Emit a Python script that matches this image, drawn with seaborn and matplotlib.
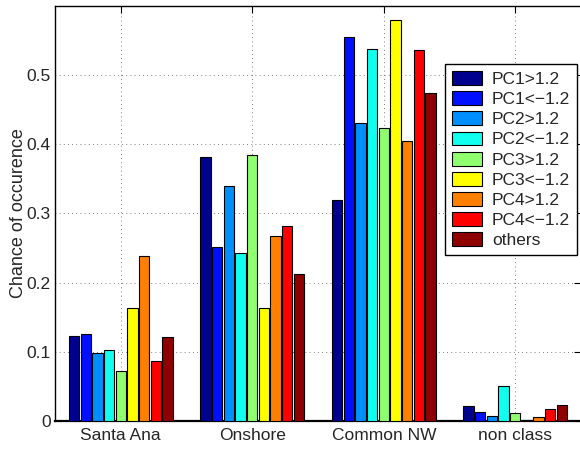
import numpy as np
import pandas as pd
import matplotlib
matplotlib.use("Agg")
import matplotlib.pyplot as plt
import seaborn as sns
from matplotlib.ticker import FuncFormatter

# Weather regimes (x groups) and PC-threshold classes (bars inside each group)
categories = ["Santa Ana", "Onshore", "Common NW", "non class"]
series = ["PC1>1.2", "PC1<\u22121.2", "PC2>1.2", "PC2<\u22121.2",
          "PC3>1.2", "PC3<\u22121.2", "PC4>1.2", "PC4<\u22121.2", "others"]

pc1_pos = [0.123, 0.382, 0.320, 0.021]
pc1_neg = [0.126, 0.252, 0.555, 0.013]
pc2_pos = [0.098, 0.340, 0.431, 0.007]
pc2_neg = [0.102, 0.243, 0.538, 0.051]
pc3_pos = [0.072, 0.385, 0.424, 0.011]
pc3_neg = [0.164, 0.164, 0.580, 0.001]
pc4_pos = [0.238, 0.267, 0.405, 0.006]
pc4_neg = [0.087, 0.282, 0.536, 0.018]
others = [0.121, 0.213, 0.474, 0.023]

values = [pc1_pos, pc1_neg, pc2_pos, pc2_neg, pc3_pos, pc3_neg,
          pc4_pos, pc4_neg, others]

colors = ["#00008F", "#0010FF", "#008FFF", "#10FFEF", "#8FFF70",
          "#FFFF00", "#FF8000", "#FF0000", "#8F0000"]

rows = []
for s, vals in zip(series, values):
    for c, v in zip(categories, vals):
        rows.append({"regime": c, "class": s, "chance": v})
df = pd.DataFrame(rows)

sns.set_style("white")
plt.rcParams["font.family"] = ["Liberation Sans", "DejaVu Sans"]

fig = plt.figure(figsize=(5.8, 4.49), dpi=100)
ax = fig.add_axes([55 / 580, 28 / 449, 526 / 580, 415 / 449])

sns.barplot(data=df, x="regime", y="chance", hue="class",
            order=categories, hue_order=series, palette=colors,
            width=0.8, gap=0.12, edgecolor="black", linewidth=0.8,
            saturation=1, ax=ax, zorder=3)

ax.set_xlim(-0.5, 3.5)
ax.set_ylim(0, 0.6)
ax.set_yticks([0, 0.1, 0.2, 0.3, 0.4, 0.5])
ax.yaxis.set_major_formatter(FuncFormatter(lambda v, p: "0" if v == 0 else f"{v:.1f}"))
ax.set_xlabel("")
ax.set_ylabel("Chance of occurence", fontsize=13, labelpad=0)

ax.grid(True, axis="both", linestyle=(0, (1, 4)), color="#555555", linewidth=0.6, zorder=0)
ax.set_axisbelow(True)

ax.tick_params(axis="both", direction="in", length=5, width=0.8, labelsize=12.5,
               top=True, right=True, color="black")
ax.tick_params(axis="x", pad=5)
ax.tick_params(axis="y", pad=3)
for side, sp in ax.spines.items():
    sp.set_visible(True)
    sp.set_color("black")
    sp.set_linewidth(1.0)
ax.spines["bottom"].set_linewidth(1.6)

handles, labels = ax.get_legend_handles_labels()
leg = ax.legend(handles, labels, loc="upper left", bbox_to_anchor=(0.7414, 0.860),
                fontsize=12.5, frameon=True, fancybox=False, framealpha=1,
                edgecolor="black", handlelength=1.73, handleheight=0.86,
                handletextpad=0.58, labelspacing=0.24, borderpad=0.4,
                borderaxespad=0)
leg.get_frame().set_linewidth(1.0)

fig.savefig("out.png", dpi=100)
